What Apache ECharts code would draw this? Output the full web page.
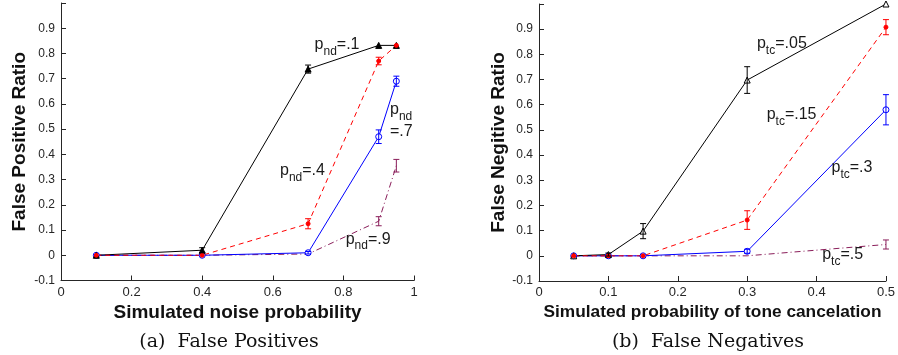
<!DOCTYPE html>
<html>
<head>
<meta charset="utf-8">
<script src="https://cdn.jsdelivr.net/npm/echarts@6/dist/echarts.min.js"></script>
<style>
  html, body { margin: 0; padding: 0; background: #fff; }
  #chart { width: 898px; height: 355px; }
</style>
</head>
<body>
<div id="chart"></div>
<script>
// (a) false positives
const noiseProb = [0.1, 0.4, 0.7, 0.9, 0.95]
const fpNd1 = [0, 0.02, 0.738, 0.832, 0.832]
const fpNd1Err = [0, 0.01, 0.016, 0, 0]
const fpNd4 = [0, 0, 0.125, 0.77, 0.832]
const fpNd4Err = [0, 0, 0.02, 0.015, 0]
const fpNd7 = [0, 0, 0.01, 0.47, 0.69]
const fpNd7Err = [0, 0, 0.005, 0.027, 0.02]
const fpNd9 = [0, 0, 0.005, 0.135, 0.355]
const fpNd9Err = [0, 0, 0, 0.018, 0.025]

// (b) false negatives
const toneProb = [0.05, 0.1, 0.15, 0.3, 0.5]
const fnTc05 = [0, 0.005, 0.098, 0.698, 1.0]
const fnTc05Err = [0, 0.006, 0.03, 0.053, 0]
const fnTc15 = [0, 0, 0, 0.142, 0.908]
const fnTc15Err = [0, 0, 0, 0.037, 0.03]
const fnTc3 = [0, 0, 0, 0.018, 0.58]
const fnTc3Err = [0, 0, 0, 0.008, 0.06]
const fnTc5 = [0, 0, 0, 0, 0.045]
const fnTc5Err = [0, 0, 0, 0, 0.018]

const BLACK = '#000000'
const RED = '#ff0000'
const BLUE = '#0000ff'
const PURPLE = '#8a1e5a'

const SANS = "'Liberation Sans', Arial, sans-serif"
const tickFont = { fontFamily: SANS, fontSize: 12, color: '#262626' }

const richLabel = {
  m: { fontFamily: SANS, fontSize: 16, color: '#1a1a1a', lineHeight: 17, verticalAlign: 'bottom', padding: [0, 0, 5, 0] },
  s: { fontFamily: SANS, fontSize: 12, color: '#1a1a1a', lineHeight: 13, verticalAlign: 'bottom' },
  m2: { fontFamily: SANS, fontSize: 16, color: '#1a1a1a', lineHeight: 17, verticalAlign: 'bottom', padding: [6, 0, 0, 0] }
}

const fmt = v => {
  if (v > 0.99) return ''
  if (Math.abs(v) < 1e-9) return '0'
  return (Math.round(v * 10) / 10).toString()
}

const pairs = (xs, ys) => xs.map((x, i) => [x, ys[i]])
const triples = (xs, ys, es) => xs.map((x, i) => [x, ys[i], es[i]])

const errorSeries = (idx, xs, ys, es, color) => ({
  type: 'custom',
  xAxisIndex: idx,
  yAxisIndex: idx,
  z: 4,
  data: triples(xs, ys, es),
  renderItem: (params, api) => {
    const e = api.value(2)
    if (!e) return
    const x = api.value(0)
    const y = api.value(1)
    const top = api.coord([x, y + e])
    const bot = api.coord([x, y - e])
    const style = { stroke: color, lineWidth: 1 }
    return {
      type: 'group',
      children: [
        { type: 'line', shape: { x1: top[0], y1: top[1], x2: bot[0], y2: bot[1] }, style },
        { type: 'line', shape: { x1: top[0] - 3, y1: top[1], x2: top[0] + 3, y2: top[1] }, style },
        { type: 'line', shape: { x1: bot[0] - 3, y1: bot[1], x2: bot[0] + 3, y2: bot[1] }, style }
      ]
    }
  }
})

const lineSeries = (idx, xs, ys, color, dash, symbol, filled, size, label) => ({
  type: 'line',
  xAxisIndex: idx,
  yAxisIndex: idx,
  data: pairs(xs, ys),
  symbol: symbol,
  symbolSize: size,
  showSymbol: symbol !== 'none',
  lineStyle: { color: color, width: 1, type: dash },
  itemStyle: { color: filled ? color : '#fff', borderColor: color, borderWidth: 1 },
  markPoint: {
    symbol: 'circle',
    symbolSize: 0,
    silent: true,
    data: [{
      coord: label.coord,
      label: {
        show: true,
        position: 'inside',
        align: label.align || 'center',
        formatter: label.text,
        rich: richLabel
      }
    }]
  }
})

const nameStyle = { fontFamily: SANS, fontWeight: 'bold', fontSize: 19, color: '#111' }

const xAxisBase = {
  type: 'value',
  nameLocation: 'middle',
  nameGap: 12,
  nameTextStyle: nameStyle,
  axisLine: { onZero: false, lineStyle: { color: '#262626' } },
  axisTick: { inside: true, length: 5, lineStyle: { color: '#262626' } },
  axisLabel: Object.assign({}, tickFont, { fontSize: 13, formatter: v => (Math.abs(v) < 1e-9 ? '0' : (Math.round(v * 10) / 10).toString()), margin: 5 }),
  splitLine: { show: false }
}

const yAxisBase = {
  type: 'value',
  min: -0.1,
  max: 1.0,
  interval: 0.1,
  nameLocation: 'middle',
  nameGap: 32,
  nameTextStyle: nameStyle,
  axisLine: { show: true, onZero: false, lineStyle: { color: '#262626' } },
  axisTick: { show: true, inside: true, length: 5, lineStyle: { color: '#262626' } },
  axisLabel: Object.assign({ formatter: fmt, margin: 6 }, tickFont),
  splitLine: { show: false }
}

const captionStyle = { fontFamily: "'DejaVu Serif', serif", fontWeight: 'normal', fontSize: 19, color: '#111' }

const chart = echarts.init(document.getElementById('chart'), null, { renderer: 'canvas' })

chart.setOption({
  animation: false,
  backgroundColor: '#fff',
  title: [
    { text: '(a)  False Positives', left: 224, top: 328, textAlign: 'center', textStyle: captionStyle },
    { text: '(b)  False Negatives', left: 703, top: 328, textAlign: 'center', textStyle: captionStyle }
  ],
  grid: [
    { left: 61, top: 3, width: 353, height: 277.5 },
    { left: 539, top: 4, width: 352, height: 277 }
  ],
  xAxis: [
    Object.assign({}, xAxisBase, { gridIndex: 0, min: 0, max: 1, interval: 0.2, name: 'Simulated noise probability' }),
    Object.assign({}, xAxisBase, { gridIndex: 1, min: 0, max: 0.5, interval: 0.1, name: 'Simulated probability of tone cancelation',
      nameGap: 13, nameTextStyle: Object.assign({}, nameStyle, { fontSize: 17.3 }) })
  ],
  yAxis: [
    Object.assign({}, yAxisBase, { gridIndex: 0, name: 'False Positive Ratio' }),
    Object.assign({}, yAxisBase, { gridIndex: 1, name: 'False Negitive Ratio', nameGap: 30 })
  ],
  series: [
    lineSeries(0, noiseProb, fpNd9, PURPLE, [6, 3, 1, 3], 'none', true, 0,
      { coord: [0.87, 0.046], text: '{m|p}{s|nd}{m|=.9}' }),
    errorSeries(0, noiseProb, fpNd9, fpNd9Err, PURPLE),
    lineSeries(0, noiseProb, fpNd7, BLUE, 'solid', 'circle', false, 6,
      { coord: [0.932, 0.525], align: 'left', text: '{m|p}{s|nd}\n{m2|=.7}' }),
    errorSeries(0, noiseProb, fpNd7, fpNd7Err, BLUE),
    lineSeries(0, noiseProb, fpNd1, BLACK, 'solid', 'triangle', true, 6,
      { coord: [0.782, 0.816], text: '{m|p}{s|nd}{m|=.1}' }),
    errorSeries(0, noiseProb, fpNd1, fpNd1Err, BLACK),
    lineSeries(0, noiseProb, fpNd4, RED, [5, 4], 'circle', true, 4,
      { coord: [0.684, 0.316], text: '{m|p}{s|nd}{m|=.4}' }),
    errorSeries(0, noiseProb, fpNd4, fpNd4Err, RED),

    lineSeries(1, toneProb, fnTc5, PURPLE, [6, 3, 1, 3], 'none', true, 0,
      { coord: [0.4376, -0.013], text: '{m|p}{s|tc}{m|=.5}' }),
    errorSeries(1, toneProb, fnTc5, fnTc5Err, PURPLE),
    lineSeries(1, toneProb, fnTc3, BLUE, 'solid', 'circle', false, 6,
      { coord: [0.451, 0.331], text: '{m|p}{s|tc}{m|=.3}' }),
    errorSeries(1, toneProb, fnTc3, fnTc3Err, BLUE),
    lineSeries(1, toneProb, fnTc05, BLACK, 'solid', 'triangle', false, 6,
      { coord: [0.35, 0.826], text: '{m|p}{s|tc}{m|=.05}' }),
    errorSeries(1, toneProb, fnTc05, fnTc05Err, BLACK),
    lineSeries(1, toneProb, fnTc15, RED, [5, 4], 'circle', true, 4,
      { coord: [0.364, 0.543], text: '{m|p}{s|tc}{m|=.15}' }),
    errorSeries(1, toneProb, fnTc15, fnTc15Err, RED)
  ]
})

window.addEventListener('resize', () => chart.resize())
</script>
</body>
</html>
